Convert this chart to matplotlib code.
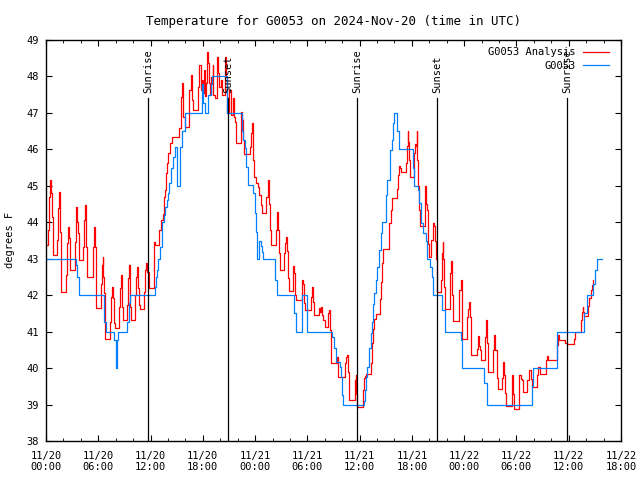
import matplotlib
matplotlib.use('Agg')
import matplotlib.pyplot as plt
import matplotlib.dates as mdates
import numpy as np

# Data (hours after 2024-11-20 00:00 UTC, degrees F)
hrs_analysis = [0.0, 0.23, 0.34, 0.46, 0.57, 0.69, 0.84, 1.30, 1.42, 1.53, 1.61, 1.68, 1.76, 2.30, 2.45, 2.56,
                2.68, 2.75, 3.33, 3.40, 3.48, 3.60, 3.71, 3.79, 4.28, 4.40, 4.51, 4.63, 4.74, 5.39, 5.47, 5.55,
                5.62, 5.70, 5.78, 6.27, 6.39, 6.50, 6.58, 6.66, 6.73, 6.81, 7.31, 7.42, 7.54, 7.65, 7.77, 7.88,
                8.34, 8.49, 8.61, 8.72, 8.80, 9.34, 9.45, 9.57, 9.68, 9.79, 10.25, 10.37, 10.44, 10.56, 10.67,
                10.79, 11.25, 11.36, 11.48, 11.63, 11.79, 12.40, 12.51, 13.01, 13.20, 13.39, 13.54, 13.66,
                13.77, 13.93, 14.04, 14.23, 14.42, 15.30, 15.46, 15.57, 15.69, 15.96, 16.45, 16.61, 16.72,
                16.84, 17.49, 17.60, 17.76, 17.87, 17.99, 18.14, 18.25, 18.37, 18.44, 18.64, 18.75, 18.83,
                18.94, 19.13, 19.21, 19.40, 19.59, 19.78, 19.90, 20.05, 20.16, 20.55, 20.66, 20.81, 21.04,
                21.20, 21.43, 21.58, 21.70, 21.81, 22.38, 22.50, 22.65, 22.77, 23.42, 23.53, 23.65, 23.72,
                23.80, 23.91, 24.10, 24.30, 24.45, 24.64, 24.79, 25.25, 25.44, 25.52, 25.63, 25.71, 25.79,
                26.36, 26.48, 26.59, 26.71, 26.86, 27.32, 27.43, 27.55, 27.66, 27.78, 27.89, 28.39, 28.50,
                28.62, 28.70, 29.35, 29.46, 29.54, 29.65, 29.77, 30.42, 30.53, 30.68, 30.80, 31.30, 31.45,
                31.56, 31.72, 31.83, 32.06, 32.41, 32.52, 32.60, 32.67, 32.75, 33.36, 33.52, 34.32, 34.44,
                34.59, 34.66, 34.74, 34.82, 35.43, 35.54, 35.62, 35.73, 36.42, 36.54, 36.61, 36.73, 37.30,
                37.42, 37.57, 37.69, 37.84, 38.34, 38.45, 38.57, 38.72, 39.33, 39.41, 39.56, 39.68, 40.33,
                40.44, 40.56, 40.63, 40.71, 41.29, 41.40, 41.51, 41.59, 41.67, 41.78, 42.24, 42.36, 42.43,
                42.55, 42.62, 42.74, 42.81, 42.93, 43.46, 43.54, 43.62, 43.69, 43.81, 43.88, 44.00, 44.19,
                44.38, 44.54, 44.61, 44.73, 44.84, 45.30, 45.42, 45.53, 45.61, 45.72, 45.84, 46.37, 46.49,
                46.64, 46.76, 47.44, 47.60, 47.71, 47.79, 48.36, 48.48, 48.59, 48.67, 48.78, 49.43, 49.55,
                49.66, 49.82, 49.93, 50.39, 50.50, 50.66, 50.77, 51.31, 51.42, 51.54, 51.73, 51.85, 52.31,
                52.42, 52.57, 52.69, 52.80, 53.49, 53.57, 53.72, 54.33, 54.48, 54.60, 54.79, 55.25, 55.48,
                55.67, 55.82, 56.40, 56.51, 56.70, 57.39, 57.54, 57.66, 58.62, 58.73, 58.85, 59.57, 59.76,
                60.57, 60.72, 61.37, 61.49, 61.60, 61.68, 61.79, 62.25, 62.36, 62.52, 62.63, 62.75]
temp_analysis = [43.38, 43.79, 44.70, 45.16, 44.79, 44.15, 43.10, 43.51, 44.38, 44.84, 43.74, 42.78, 42.10,
                 42.55, 43.42, 43.88, 43.56, 42.69, 43.47, 44.02, 44.43, 44.02, 43.70, 42.96, 43.33, 44.06,
                 44.47, 43.33, 42.51, 43.33, 43.51, 43.88, 43.33, 42.23, 41.64, 42.32, 42.83, 43.06, 42.51,
                 42.05, 41.27, 40.79, 41.27, 41.96, 42.23, 41.92, 41.23, 41.09, 41.68, 42.19, 42.55, 41.68,
                 41.32, 41.73, 42.46, 42.83, 41.68, 41.32, 42.00, 42.51, 42.78, 42.19, 41.73, 41.63, 42.10,
                 42.69, 42.87, 42.64, 42.19, 43.47, 43.37, 43.79, 44.06, 44.24, 44.70, 44.88, 45.34, 45.62,
                 45.89, 46.17, 46.35, 46.58, 47.44, 47.81, 46.90, 46.60, 47.63, 48.04, 47.35, 47.08, 47.72,
                 48.31, 47.63, 47.90, 47.54, 48.18, 47.45, 47.81, 48.68, 48.36, 47.81, 47.49, 47.99, 48.31,
                 47.49, 47.40, 48.54, 48.09, 47.72, 47.90, 47.49, 48.54, 48.00, 46.99, 47.63, 46.94, 47.40,
                 46.90, 46.76, 46.17, 47.03, 46.80, 46.26, 45.87, 46.07, 46.44, 46.71, 46.20, 45.71, 45.25,
                 45.07, 44.98, 44.75, 44.47, 44.25, 44.70, 44.98, 45.16, 44.50, 43.79, 43.38, 43.79, 44.29,
                 43.80, 43.15, 42.69, 43.15, 43.42, 43.59, 43.20, 42.46, 42.12, 42.80, 42.60, 42.00, 41.87,
                 42.42, 42.35, 42.30, 41.78, 41.59, 41.96, 42.23, 41.82, 41.46, 41.64, 41.55, 41.68, 41.45,
                 41.32, 41.13, 41.50, 41.59, 41.04, 40.68, 40.13, 40.31, 39.76, 40.13, 40.31, 40.36, 39.90,
                 39.40, 39.12, 39.67, 39.82, 39.30, 38.94, 39.40, 39.73, 39.78, 39.85, 40.15, 40.70, 41.07,
                 41.34, 41.48, 41.89, 42.35, 42.89, 43.26, 43.62, 43.99, 44.35, 44.67, 44.90, 45.31, 45.54,
                 45.50, 45.38, 45.63, 46.08, 46.49, 46.20, 45.71, 45.25, 45.90, 46.15, 46.10, 46.49, 45.71,
                 45.00, 44.35, 43.90, 44.80, 45.00, 44.50, 44.35, 43.80, 43.40, 43.06, 43.51, 43.97, 43.90,
                 43.50, 43.00, 42.10, 42.42, 43.15, 43.47, 43.00, 42.23, 41.61, 42.61, 42.93, 42.00, 41.30,
                 42.14, 42.43, 41.86, 40.80, 41.40, 41.63, 41.81, 41.40, 40.36, 40.53, 40.89, 40.60, 40.49,
                 40.22, 40.86, 41.32, 40.70, 39.90, 40.49, 40.91, 40.50, 39.72, 39.42, 39.72, 40.18, 39.80,
                 39.31, 38.96, 39.80, 39.30, 38.87, 39.80, 39.70, 39.67, 39.35, 39.67, 39.96, 39.70, 39.49,
                 39.80, 40.04, 39.85, 40.22, 40.34, 40.22, 40.64, 40.91, 40.77, 40.70, 40.65, 40.80, 41.00,
                 41.32, 41.55, 41.67, 41.55, 41.43, 41.70, 41.92, 42.14, 42.28, 42.42]

hrs_obs = [0.0, 3.40, 3.60, 3.80, 6.60, 6.70, 6.85, 7.84, 8.03, 8.07, 8.12, 8.20, 8.28, 9.30, 9.50, 9.60,
           12.50, 12.60, 12.75, 12.90, 13.10, 13.30, 13.50, 13.70, 13.85, 14.00, 14.15, 14.40, 14.60, 14.80,
           15.00, 15.35, 15.60, 16.00, 17.87, 18.06, 18.30, 18.60, 18.90, 19.02, 20.74, 22.50, 22.65, 22.80,
           23.00, 23.20, 23.80, 24.00, 24.10, 24.25, 24.45, 24.65, 24.84, 24.90, 26.30, 26.55, 28.50, 28.75,
           29.35, 30.00, 32.80, 33.00, 33.30, 33.75, 33.85, 34.00, 34.10, 36.50, 36.60, 36.73, 36.88, 37.10,
           37.27, 37.38, 37.50, 37.65, 37.88, 38.03, 38.26, 38.42, 38.53, 39.03, 39.18, 39.49, 39.68, 39.87,
           39.98, 40.33, 40.56, 42.10, 42.24, 42.74, 42.86, 43.00, 43.24, 43.62, 43.77, 44.08, 44.27, 44.38,
           45.50, 45.80, 47.60, 47.80, 50.30, 50.60, 55.80, 55.90, 58.60, 58.70, 61.80, 62.05, 62.80, 63.00,
           63.30, 63.78]
temp_obs = [43.0, 42.83, 42.51, 42.0, 41.78, 41.27, 41.0, 40.77, 40.28, 40.0, 40.28, 40.77, 41.0, 41.27,
            41.78, 42.0, 42.23, 42.5, 42.69, 43.0, 43.33, 44.0, 44.2, 44.43, 44.6, 44.8, 45.07, 45.5, 45.8,
            46.07, 45.0, 46.07, 46.5, 47.0, 47.8, 47.26, 47.0, 47.5, 47.8, 48.0, 47.0, 46.5, 46.26, 46.03,
            45.52, 45.02, 44.8, 44.25, 43.74, 43.0, 43.5, 43.35, 43.19, 43.0, 42.42, 42.0, 41.5, 41.0, 42.0,
            41.0, 40.86, 40.54, 40.18, 40.04, 39.76, 39.26, 39.0, 39.1, 39.4, 39.76, 40.04, 40.54, 40.95,
            41.27, 41.77, 42.05, 42.42, 42.78, 43.24, 43.7, 44.02, 44.75, 45.16, 45.98, 46.26, 46.72, 47.0,
            46.5, 46.0, 45.5, 45.0, 44.88, 44.53, 43.98, 43.7, 43.5, 43.0, 42.78, 42.5, 42.0, 41.59, 41.0,
            40.77, 40.0, 39.58, 39.0, 39.5, 40.0, 40.5, 41.0, 41.5, 42.0, 42.32, 42.69, 43.0, 43.0]

sun_hrs = [11.74, 20.93, 35.74, 44.92, 59.84]
sun_labels = ['Sunrise', 'Sunset', 'Sunrise', 'Sunset', 'Sunrise']

start = np.datetime64('2024-11-20T00:00')
def to_time(h):
    return start + (np.array(h) * 60).round().astype('timedelta64[m]')

plt.rcParams['font.family'] = 'DejaVu Sans Mono'
plt.rcParams['font.size'] = 7.5

fig = plt.figure(figsize=(6.4, 4.8), dpi=100)
ax = fig.add_axes([0.0719, 0.0812, 0.8984, 0.8355])

ax.plot(to_time(hrs_analysis), temp_analysis, drawstyle='steps-post', color='#ff0000', lw=0.9,
        label='G0053 Analysis')
ax.plot(to_time(hrs_obs), temp_obs, drawstyle='steps-post', color='#0080ff', lw=0.9, label='G0053')

# sunrise / sunset markers
for h, lab in zip(sun_hrs, sun_labels):
    t = to_time(h)
    ax.plot([t, t], [38, 47.4], color='black', lw=0.9)
    ax.text(t, 47.55, lab, rotation=90, ha='center', va='bottom')

ax.set_xlim(to_time(0), to_time(66))
ax.set_ylim(38, 49)
ax.set_yticks(range(38, 50))
ax.xaxis.set_major_locator(mdates.HourLocator(byhour=[0, 6, 12, 18]))
ax.xaxis.set_minor_locator(mdates.HourLocator(byhour=range(0, 24, 2)))
ax.xaxis.set_major_formatter(mdates.DateFormatter('%m/%d\n%H:%M'))
ax.tick_params(which='both', direction='in', top=True, right=True)
ax.tick_params(which='major', length=4.5, pad=7)
ax.tick_params(which='minor', length=2.5)
ax.tick_params(axis='y', pad=5)
for s in ax.spines.values():
    s.set_linewidth(1.0)

ax.set_title('Temperature for G0053 on 2024-Nov-20 (time in UTC)', pad=11)
fig.text(0.016, 0.5, 'degrees F', rotation=90, ha='center', va='center')

ax.legend(loc='upper right', frameon=False, markerfirst=False, handlelength=2.5,
          handletextpad=0.7, labelspacing=0.35, borderaxespad=0.3, bbox_to_anchor=(0.992, 1.0))

plt.savefig('out.png', dpi=100)
